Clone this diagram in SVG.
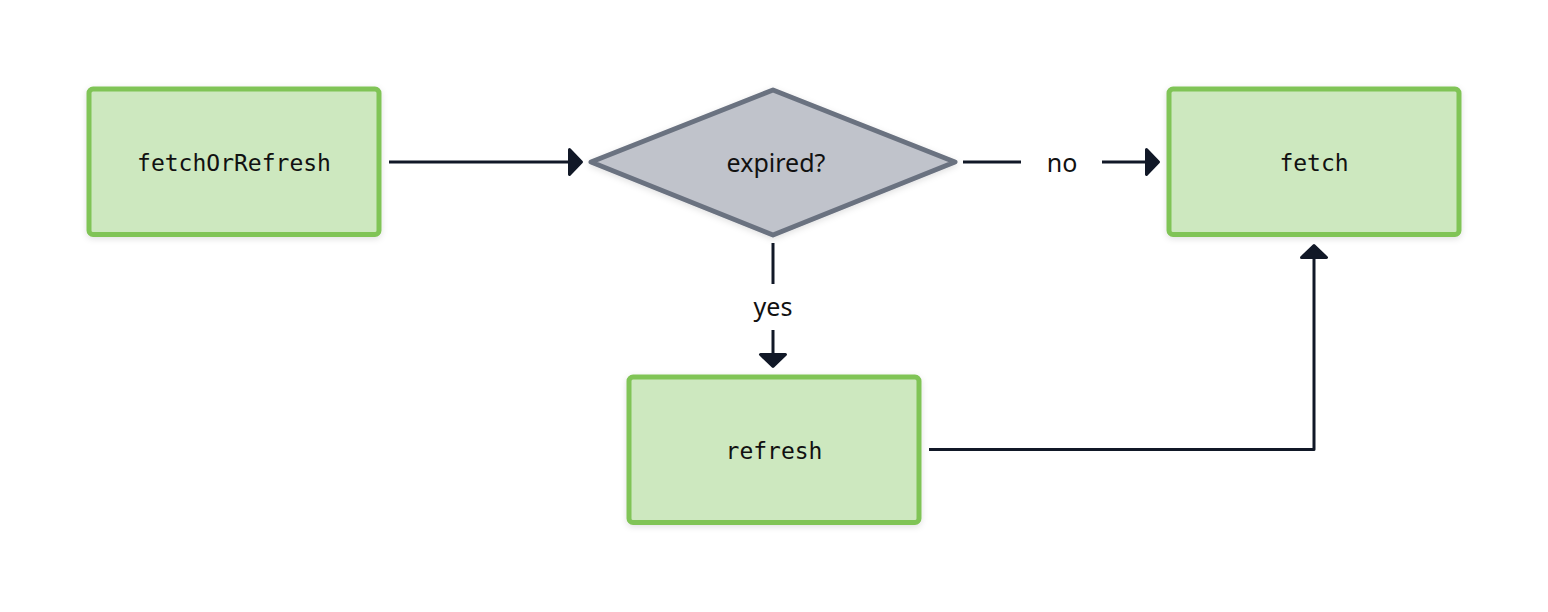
<svg xmlns="http://www.w3.org/2000/svg" width="1548" height="612" viewBox="0 0 1548 612">
  <style>
    .box { fill: #cde8bf; stroke: #80c457; stroke-width: 5; }
    .dec { fill: #c0c3cb; stroke: #6b7280; stroke-width: 5; stroke-linejoin: round; }
    .mono { font-family: "DejaVu Sans Mono", "Liberation Mono", monospace; font-size: 23px; fill: #111111; text-anchor: middle; }
    .sans { font-family: "Noto Sans", "Open Sans", sans-serif; font-size: 25px; fill: #111111; text-anchor: middle; }
    .edge { fill: none; stroke: #111827; stroke-width: 3; }
    .lbl { font-family: "Noto Sans", "Open Sans", sans-serif; font-size: 25px; fill: #111111; text-anchor: middle; }
  </style>
  <defs>
    <filter id="sh" x="-10%" y="-10%" width="120%" height="130%">
      <feDropShadow dx="0" dy="2" stdDeviation="3" flood-color="#000000" flood-opacity="0.12"/>
    </filter>
    <marker id="arrow" markerUnits="userSpaceOnUse" markerWidth="20" markerHeight="32" refX="13" refY="14" orient="auto">
      <path d="M1.5,1.5 L13.5,14 L1.5,26.5 Z" fill="#111827" stroke="#111827" stroke-width="3" stroke-linejoin="round"/>
    </marker>
  </defs>
  <rect width="1548" height="612" fill="#ffffff"/>

  <g id="connectors">
    <path class="edge" d="M389,162 H581" marker-end="url(#arrow)"/>
    <path class="edge" d="M963,162 H1021"/>
    <path class="edge" d="M1102,162 H1158" marker-end="url(#arrow)"/>
    <text class="lbl" x="1062" y="171.5">no</text>
    <path class="edge" d="M773,243 V284"/>
    <path class="edge" d="M773,330 V366" marker-end="url(#arrow)"/>
    <text class="lbl" x="773" y="316">yes</text>
    <path class="edge" d="M929,449.5 H1314 V246" marker-end="url(#arrow)" stroke-linejoin="round"/>
  </g>

  <g id="fetchOrRefresh">
    <rect class="box" x="89" y="89" width="290" height="145.5" rx="4" filter="url(#sh)"/>
    <text class="mono" x="234" y="171">fetchOrRefresh</text>
  </g>

  <g id="expired">
    <path class="dec" d="M773,90 L955,162 L773,235 L591,162 Z" filter="url(#sh)"/>
    <text class="sans" x="776" y="171.5">expired?</text>
  </g>

  <g id="fetch">
    <rect class="box" x="1169" y="89" width="290" height="145.5" rx="4" filter="url(#sh)"/>
    <text class="mono" x="1314" y="171">fetch</text>
  </g>

  <g id="refresh">
    <rect class="box" x="629" y="377" width="290" height="145.5" rx="4" filter="url(#sh)"/>
    <text class="mono" x="774" y="459">refresh</text>
  </g>
</svg>
